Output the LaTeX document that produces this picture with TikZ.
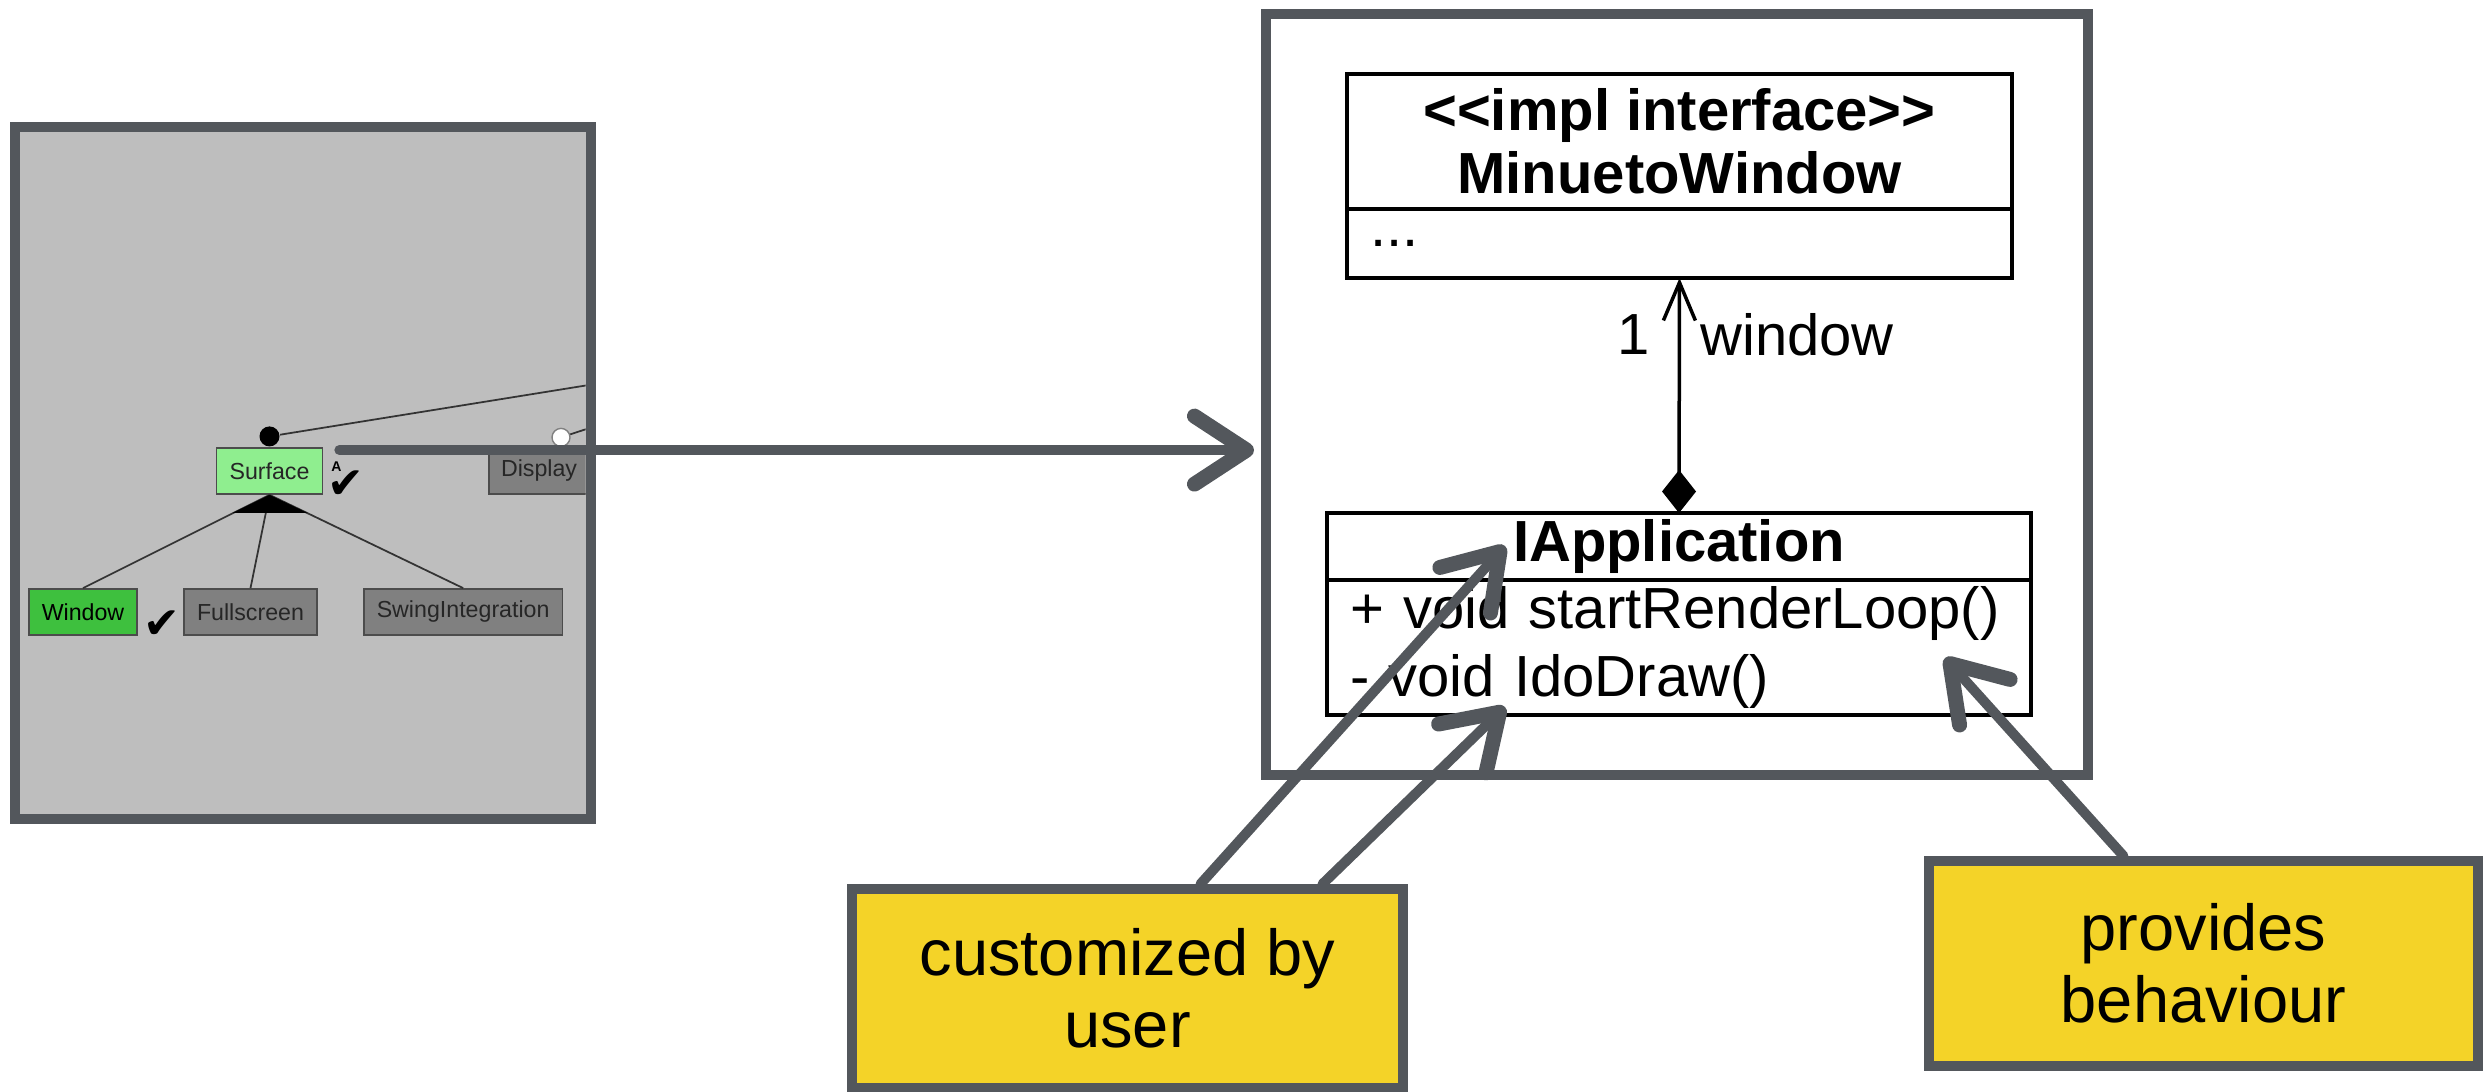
\documentclass[tikz,border=0pt]{standalone}
\usepackage{fontspec}
\setmainfont{Liberation Sans}
\newfontfamily\symfont{DejaVu Sans}
\usetikzlibrary{positioning,arrows.meta}
\definecolor{framegray}{RGB}{83,87,92}
\definecolor{notebg}{RGB}{244,211,40}
\definecolor{panelbg}{RGB}{190,190,190}
\definecolor{surfgreen}{RGB}{143,238,143}
\definecolor{wingreen}{RGB}{62,192,62}
\definecolor{featgray}{RGB}{128,128,128}

\begin{document}
\begin{tikzpicture}[
  font=\fontsize{16.5}{18}\selectfont,
  feat/.style={draw=black!70, line width=0.5pt, inner xsep=1.3mm, inner ysep=0pt, minimum height=4.6mm, font=\fontsize{6.6}{7}\selectfont, text=black!85},
  fline/.style={draw=black!80, line width=0.5pt},
  check/.style={font=\symfont\fontsize{12.5}{12.5}\selectfont, inner sep=0pt},
  umlbox/.style={draw, line width=0.4mm, outer sep=0pt, inner ysep=0pt, align=center},
  umlbody/.style={umlbox, align=left, inner xsep=2.3mm},
  roughframe/.style={draw=framegray, line width=1mm},
  note/.style={roughframe, fill=notebg, align=center, font=\fontsize{18.5}{20.5}\selectfont},
  brush/.style={draw=framegray, line width=1mm, line cap=round, -{Straight Barb[length=5.2mm,width=6.8mm,line width=1.5mm,round]}},
]
  \useasboundingbox (0,0) rectangle (24.87,-10.92);

  \node[fill=panelbg, minimum width=5.74cm, minimum height=6.9cm] (panel) at (3.03,-4.73) {};
  \begin{scope}
    \clip ([shift={(0.5mm,0.5mm)}]panel.south west) rectangle ([shift={(-0.5mm,-0.5mm)}]panel.north east);
    \node[feat, fill=surfgreen] (surface) at (2.695,-4.71) {Surface};
    \node[feat, fill=featgray, text width=1.2cm, align=left, inner xsep=1.2mm] (display) at (5.61,-4.71) {Display};
    \node[feat, fill=wingreen, text=black] (window) at (0.83,-6.12) {Window};
    \node[feat, fill=featgray, right=4.5mm of window] (fullscreen) {Fullscreen};
    \node[feat, fill=featgray, right=4.5mm of fullscreen] (swing) {SwingIntegration};

    \node[circle, fill=black, inner sep=0pt, minimum size=2mm, above=0pt of surface] (surfacedot) {};
    \node[circle, draw=black!50, fill=white, inner sep=0pt, minimum size=1.8mm, above=0pt of display] (displaydot) {};
    \coordinate (surfaceparent) at (6.2,-3.80);
    \coordinate (displayparent) at (6.2,-4.18);

    \draw[fline] (surfacedot) -- (surfaceparent);
    \draw[fline] (displaydot) -- (displayparent);
    \draw[fline] (surface.south) -- (window.north);
    \draw[fline] (surface.south) -- (fullscreen.north);
    \draw[fline] (surface.south) -- (swing.north);
    \fill (surface.south) -- ++(-3.7mm,-1.8mm) -- ++(7.5mm,0) -- cycle;

    \node[check, anchor=base west] (surfacechk) at ([shift={(0.3mm,-0.4mm)}]surface.south east) {✔};
    \node[font=\bfseries\fontsize{4}{4}\selectfont, inner sep=0pt] (surfacetag) at ([shift={(1.3mm,-2mm)}]surface.north east) {A};
    \node[check, anchor=base west] (windowchk) at ([shift={(0.5mm,-0.3mm)}]window.south east) {✔};
  \end{scope}
  \draw[roughframe] (panel.south west) rectangle (panel.north east);

  \node[roughframe, minimum width=8.22cm, minimum height=7.61cm] (model) at (16.77,-3.945) {};
  \node[umlbox, minimum width=6.65cm, minimum height=1.35cm, font=\bfseries\fontsize{16.5}{18}\selectfont] (mwhead) at (16.795,-1.415) {<\kern0pt<impl interface>\kern0pt>\\MinuetoWindow};
  \node[umlbody, below=0pt of mwhead, minimum height=0.69cm, text width=6.19cm] (mwbody) {...};
  \node[umlbox, minimum width=7.04cm, minimum height=0.67cm, font=\bfseries\fontsize{16.5}{18}\selectfont] (iahead) at (16.79,-5.465) {IApplication};
  \node[umlbody, below=0pt of iahead, minimum height=1.35cm, text width=6.58cm, font=\fontsize{16.5}{19.6}\selectfont] (iabody) {+ void startRenderLoop()\\- void IdoDraw()};

  \draw[line width=0.35mm, {Diamond[length=4.3mm,width=3.4mm]}-{Straight Barb[length=3.8mm,width=3.2mm]}] (iahead.north) -- (mwbody.south)
    node[pos=0.76, left=1.6mm] {1} node[pos=0.76, right=0.75mm] {window};

  \coordinate (bigstart) at ([shift={(1.6mm,-0.3mm)}]surface.north east);
  \draw[brush, shorten >=0.7mm] (bigstart) -- (bigstart -| model.west);

  \node[note, minimum width=5.51cm, minimum height=1.99cm] (custnote) at (11.275,-9.885) {customized by\\user};
  \node[note, minimum width=5.49cm, minimum height=2.05cm] (provnote) at (22.035,-9.635) {provides\\behaviour};

  \coordinate (custtipA) at (15.05,-5.46);
  \coordinate (custtipB) at (15.05,-7.07);
  \coordinate (provtip) at (19.45,-6.58);
  \draw[brush] ([xshift=7.3mm]custnote.north) -- (custtipA);
  \draw[brush] ([xshift=19.5mm]custnote.north) -- (custtipB);
  \draw[brush] ([xshift=-8mm]provnote.north) -- (provtip);
\end{tikzpicture}
\end{document}
